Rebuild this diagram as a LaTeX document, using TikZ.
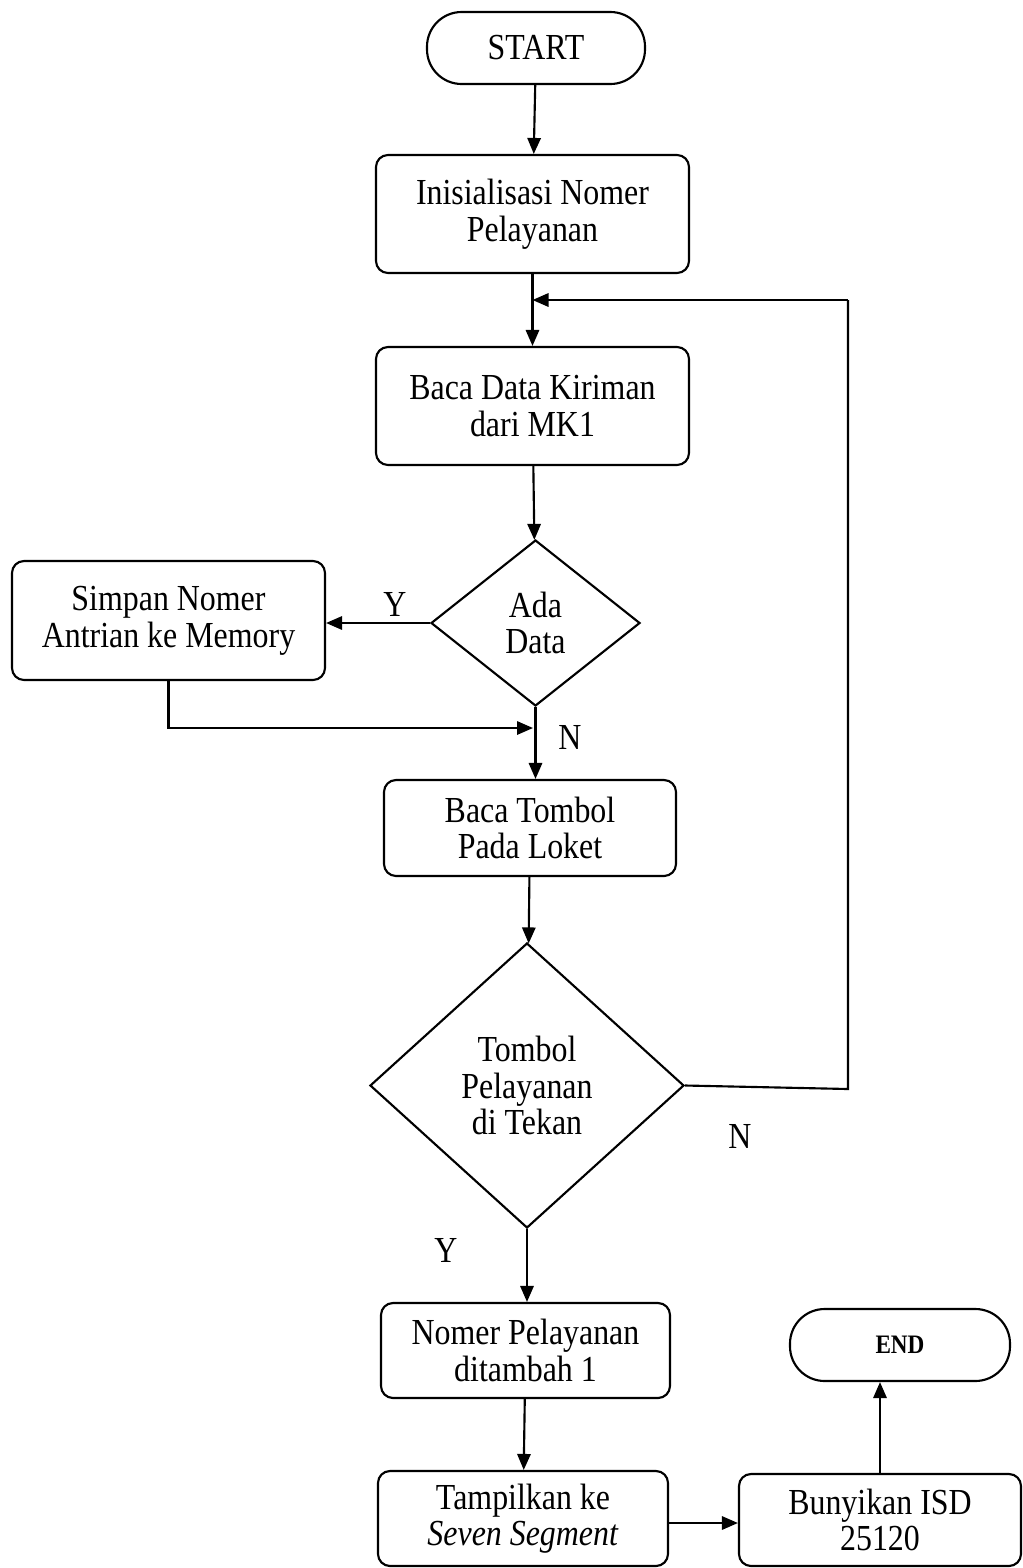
\documentclass[tikz,border=0pt]{standalone}
\usepackage{fontspec}
\setmainfont{Liberation Serif}[FakeStretch=0.87]
\usetikzlibrary{shapes.geometric,arrows.meta}
\begin{document}
\begin{tikzpicture}[x=0.75pt,y=-0.75pt,
  every node/.style={font=\fontsize{27.5}{27.5}\selectfont, align=center, inner sep=0pt},
  line/.style={line width=1.6pt},
  arr/.style={line width=1.6pt,-{Triangle[length=12pt,width=10pt]}},
  proc/.style={draw, line width=1.6pt, rounded corners=9pt},
  term/.style={draw, line width=1.6pt, rounded corners=26pt},
  dec/.style={draw, line width=1.6pt, diamond},
  lbl/.style={font=\fontsize{27.5}{27.5}\selectfont}]
\useasboundingbox (0,0) rectangle (1022,1568);
\node[term, minimum width=163.5pt, minimum height=54pt] (start) at (536,48) {START};
\node[proc, minimum width=234.75pt, minimum height=88.5pt] (init) at (532.5,214) {Inisialisasi Nomer\\Pelayanan};
\node[proc, minimum width=234.75pt, minimum height=88.5pt] (baca) at (532.5,406) {Baca Data Kiriman\\dari MK1};
\node[dec, minimum width=156.75pt, minimum height=124.5pt] (ada) at (535.5,623) {Ada\\Data};
\node[proc, minimum width=234.75pt, minimum height=89.25pt] (simpan) at (168.5,620.5) {Simpan Nomer\\Antrian ke Memory};
\node[proc, minimum width=219pt, minimum height=72pt] (tombol) at (530,828) {Baca Tombol\\Pada Loket};
\node[dec, minimum width=235.5pt, minimum height=213.75pt] (tekan) at (527,1085.5) {Tombol\\Pelayanan\\di Tekan};
\node[proc, minimum width=216.75pt, minimum height=71.25pt] (nomer) at (525.5,1350.5) {Nomer Pelayanan\\ditambah 1};
\node[proc, minimum width=217.5pt, minimum height=71.25pt] (tampil) at (523,1518.5) {Tampilkan ke\\\textit{Seven Segment}};
\node[proc, minimum width=211.5pt, minimum height=69pt] (bunyi) at (880,1520) {Bunyikan ISD\\25120};
\node[term, minimum width=165pt, minimum height=54pt, font=\fontsize{20}{20}\selectfont\bfseries] (end) at (900,1345) {END};

\node[lbl] (ly1) at (395,604) {Y};
\node[lbl] (ln1) at (570,737) {N};
\node[lbl] (ln2) at (740,1136) {N};
\node[lbl] (ly2) at (446,1250) {Y};

\coordinate (lr) at (848,1089);
\coordinate (lt) at (848,300);
\coordinate (jn) at (533,728);

\draw[arr] (start) -- (init);
\draw[arr] (init) -- (baca);
\draw[arr] (baca) -- (ada);
\draw[arr] (ada.west) -- (simpan.east |- ada.west);
\draw[arr] (simpan.south) |- (jn);
\draw[arr] (ada.south) -- (tombol.north -| ada.south);
\draw[arr] (tombol) -- (tekan);
\draw[line] (tekan.east) -- (lr) -- (lt);
\draw[arr] (lt) -- (baca.north |- lt);
\draw[arr] (tekan.south) -- (nomer.north -| tekan.south);
\draw[arr] (nomer) -- (tampil);
\draw[arr] (tampil.east |- 0,1523) -- (bunyi.west |- 0,1523);
\draw[arr] (bunyi.north) -- (end.south -| bunyi.north);
\end{tikzpicture}
\end{document}
